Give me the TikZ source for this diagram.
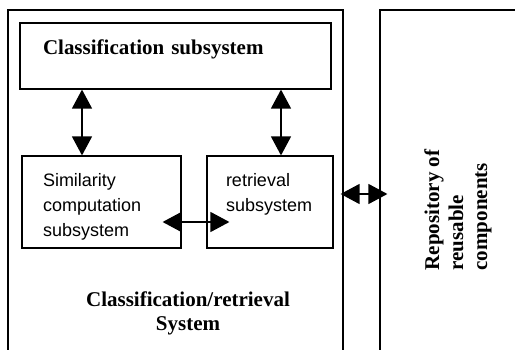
\documentclass[tikz,border=0pt]{standalone}
\usepackage{fontspec}
\setmainfont{Liberation Serif}
\setsansfont{Liberation Sans}
\usetikzlibrary{arrows.meta}

\begin{document}
\begin{tikzpicture}[x=1pt,y=-1pt,line width=1.2pt,
  box/.style={draw,rectangle,inner sep=0pt},
  bigtext/.style={font=\bfseries\fontsize{21}{24}\selectfont},
  smalltext/.style={font=\sffamily\fontsize{18}{25}\selectfont,align=left},
  twoway/.style={{Triangle[length=19pt,width=20pt]}-{Triangle[length=19pt,width=20pt]},line width=1.4pt}]
  \useasboundingbox (0,0) rectangle (515,350);
  \clip (0,0) rectangle (515,350);
  % frames, cut by the page edge
  \node[box,minimum width=335pt,minimum height=368pt] (sys) at (175.5,194) {};
  \node[box,minimum width=200pt,minimum height=368pt] (repo) at (480,194) {};
  % subsystems
  \node[box,bigtext,align=left,text width=265pt,inner xsep=23pt,
    text height=32pt,text depth=34pt] (classif) at (175.5,56) {Classification subsystem};
  \node[box,smalltext,text width=117pt,inner xsep=21pt,
    text height=31pt,text depth=61pt] (simil) at (101.5,202) {Similarity\\computation\\subsystem};
  \node[box,smalltext,text width=88pt,inner xsep=19pt,
    text height=31pt,text depth=61pt] (retr) at (270,202) {retrieval\\subsystem};
  % labels of the frames
  \node[bigtext,align=center] (syslabel) at (188,313) {Classification/retrieval\\System};
  \node[bigtext,align=left,rotate=90] (repolabel) at (458,210) {Repository of\\reusable\\components};
  % links
  \draw[twoway] ([xshift=-19.5pt]simil.north) -- ([xshift=-19.5pt]simil.north |- classif.south);
  \draw[twoway] ([xshift=11pt]retr.north) -- ([xshift=11pt]retr.north |- classif.south);
  \draw[twoway,shorten <=-19pt,shorten >=-23pt] ([yshift=-20pt]simil.east) -- ([yshift=-20pt]simil.east -| retr.west);
  \draw[twoway,shorten <=-3pt,shorten >=-8pt] (sys.east) -- (repo.west);
\end{tikzpicture}
\end{document}
